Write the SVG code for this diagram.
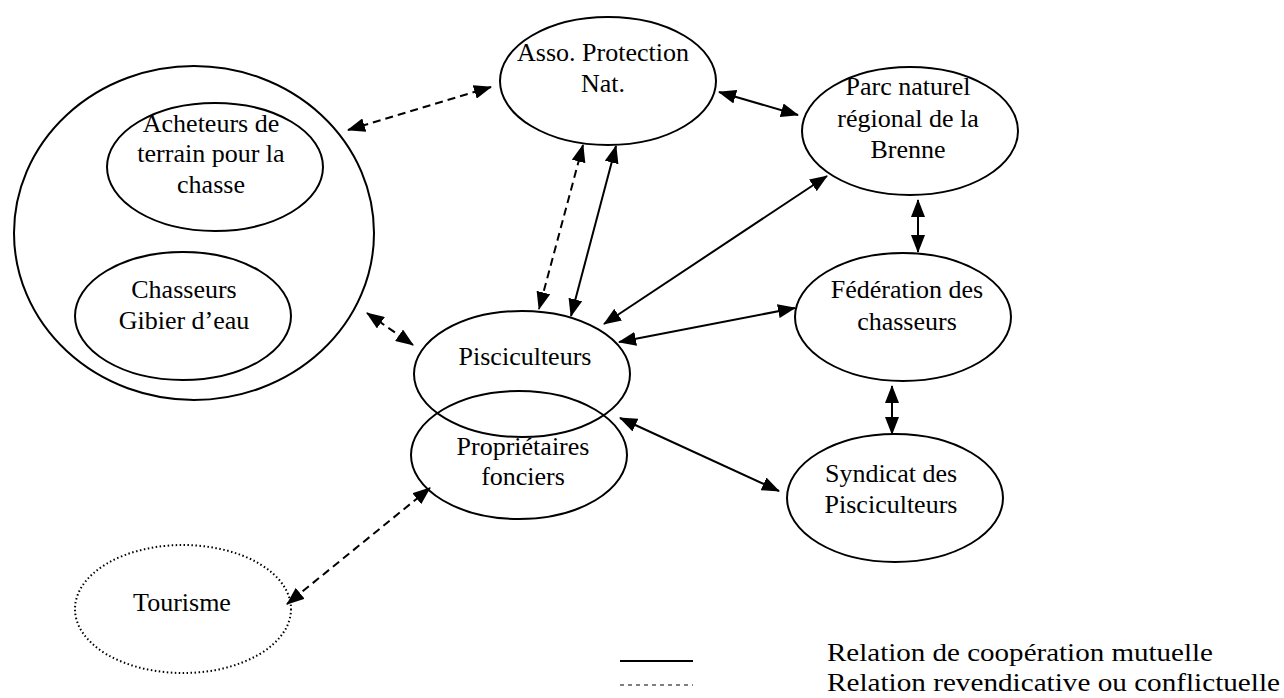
<svg xmlns="http://www.w3.org/2000/svg" width="1284" height="698" viewBox="0 0 1284 698">
<style>
.n{fill:none;stroke:#000;stroke-width:2}
.dot{fill:none;stroke:#000;stroke-width:2;stroke-dasharray:1.5 2.5}
.t{font-family:"Liberation Serif","Times New Roman",serif;font-size:26px;fill:#000;text-anchor:middle}
.lt{font-family:"Liberation Serif","Times New Roman",serif;font-size:26px;fill:#000}
.s{fill:none;stroke:#000;stroke-width:2;marker-start:url(#a);marker-end:url(#a)}
.d{fill:none;stroke:#000;stroke-width:2;stroke-dasharray:8 5;marker-start:url(#a);marker-end:url(#a)}
</style>
<defs>
<marker id="a" viewBox="0 0 18 14" refX="17" refY="7" markerWidth="18" markerHeight="14" markerUnits="userSpaceOnUse" orient="auto-start-reverse">
<path d="M0,0 L18,7 L0,14 Z" fill="#000"/>
</marker>
</defs>
<rect width="1284" height="698" fill="#fff"/>
<g id="chasse-group">
<ellipse class="n" cx="194" cy="233" rx="180" ry="167"/>
</g>
<g id="acheteurs">
<ellipse class="n" cx="215" cy="167" rx="108" ry="64"/>
<text class="t" x="211" y="132">Acheteurs de</text>
<text class="t" x="211" y="162">terrain pour la</text>
<text class="t" x="211" y="193">chasse</text>
</g>
<g id="chasseurs">
<ellipse class="n" cx="183" cy="316" rx="108" ry="64"/>
<text class="t" x="184" y="298">Chasseurs</text>
<text class="t" x="184" y="329">Gibier d’eau</text>
</g>
<g id="asso">
<ellipse class="n" cx="608" cy="81" rx="108" ry="64"/>
<text class="t" x="603" y="61">Asso. Protection</text>
<text class="t" x="603" y="92">Nat.</text>
</g>
<g id="parc">
<ellipse class="n" cx="910" cy="131" rx="108" ry="64"/>
<text class="t" x="908" y="95">Parc naturel</text>
<text class="t" x="908" y="127">régional de la</text>
<text class="t" x="908" y="158">Brenne</text>
</g>
<g id="federation">
<ellipse class="n" cx="903" cy="317" rx="108" ry="64"/>
<text class="t" x="907" y="298">Fédération des</text>
<text class="t" x="907" y="330">chasseurs</text>
</g>
<g id="pisciculteurs">
<ellipse class="n" cx="522" cy="374" rx="108" ry="63"/>
<text class="t" x="525" y="365">Pisciculteurs</text>
</g>
<g id="proprietaires">
<ellipse class="n" cx="519" cy="455" rx="108" ry="64"/>
<text class="t" x="523" y="455">Propriétaires</text>
<text class="t" x="523" y="485">fonciers</text>
</g>
<g id="syndicat">
<ellipse class="n" cx="895" cy="498" rx="108" ry="64"/>
<text class="t" x="891" y="482">Syndicat des</text>
<text class="t" x="891" y="513">Pisciculteurs</text>
</g>
<g id="tourisme">
<ellipse class="dot" cx="183" cy="609" rx="108" ry="64"/>
<text class="t" x="182" y="611">Tourisme</text>
</g>
<g id="connectors">
<line class="d" x1="348" y1="130" x2="491" y2="87"/>
<line class="s" x1="719" y1="92" x2="798" y2="115"/>
<line class="d" x1="583" y1="145" x2="539" y2="309"/>
<line class="s" x1="616" y1="146" x2="571" y2="316"/>
<line class="s" x1="827" y1="176" x2="604" y2="324"/>
<line class="s" x1="619" y1="342" x2="795" y2="308"/>
<line class="s" x1="918" y1="200" x2="918" y2="252"/>
<line class="s" x1="892" y1="386" x2="892" y2="434"/>
<line class="s" x1="620" y1="418" x2="779" y2="491"/>
<line class="d" x1="367" y1="313" x2="413" y2="345"/>
<line class="d" x1="430" y1="488" x2="287" y2="604"/>
</g>
<g id="legend">
<line x1="620" y1="661" x2="693" y2="661" stroke="#000" stroke-width="2"/>
<line x1="620" y1="685" x2="693" y2="685" stroke="#000" stroke-width="1.2" stroke-dasharray="4 4"/>
<text class="lt" x="827" y="661" textLength="386" lengthAdjust="spacingAndGlyphs">Relation de coopération mutuelle</text>
<text class="lt" x="827" y="691" textLength="453" lengthAdjust="spacingAndGlyphs">Relation revendicative ou conflictuelle</text>
</g>
</svg>
